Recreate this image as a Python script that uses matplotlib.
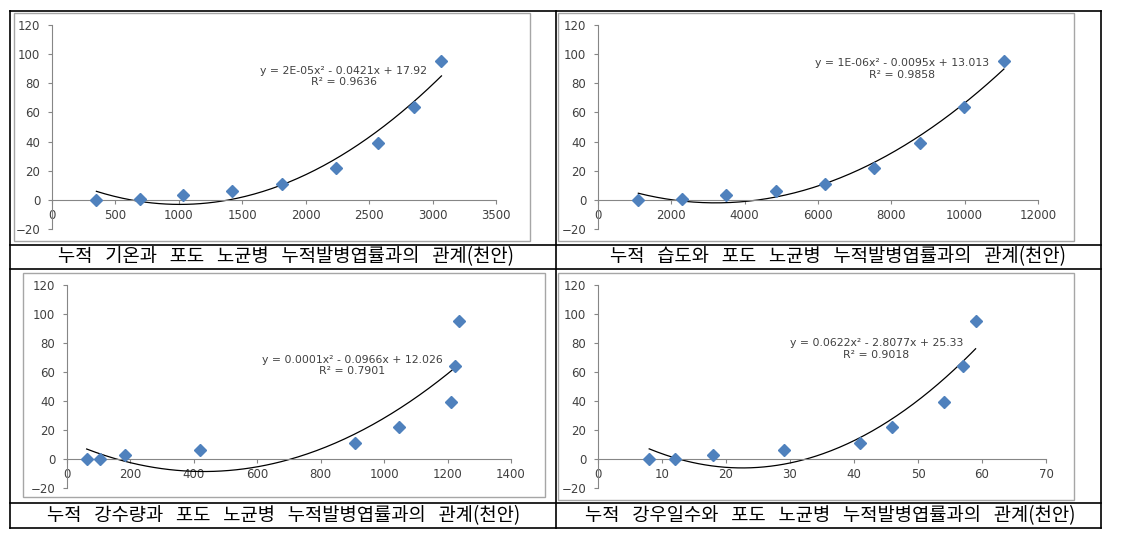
import matplotlib
matplotlib.use("Agg")
import matplotlib.pyplot as plt
from matplotlib.lines import Line2D
from matplotlib.patches import Rectangle
import numpy as np

##################
# data
##################
# cumulative incidence rate (%) - same for the 4 charts
incidence = [0, 0.3, 3, 6, 11, 22, 39, 64, 95]

temp_x = [350, 695, 1035, 1415, 1810, 2240, 2570, 2850, 3070]        # 누적 기온
humid_x = [1100, 2300, 3480, 4850, 6180, 7540, 8780, 9970, 11070]    # 누적 습도
rain_x = [62, 104, 182, 419, 909, 1046, 1210, 1222, 1235]            # 누적 강수량
raindays_x = [8, 12, 18, 29, 41, 46, 54, 57, 59]                     # 누적 강우일수

equations = ["y = 2E-05x\u00b2 - 0.0421x + 17.92",
             "y = 1E-06x\u00b2 - 0.0095x + 13.013",
             "y = 0.0001x\u00b2 - 0.0966x + 12.026",
             "y = 0.0622x\u00b2 - 2.8077x + 25.33"]
r_squared = ["R\u00b2 = 0.9636", "R\u00b2 = 0.9858", "R\u00b2 = 0.7901", "R\u00b2 = 0.9018"]

captions = ["누적   기온과   포도   노균병   누적발병엽률과의   관계(천안)",
            "누적   습도와   포도   노균병   누적발병엽률과의   관계(천안)",
            "누적   강수량과   포도   노균병   누적발병엽률과의   관계(천안)",
            "누적   강우일수와   포도   노균병   누적발병엽률과의   관계(천안)"]

x_max = [3500, 12000, 1400, 70]
x_step = [500, 2000, 200, 10]
y_ticks = [-20, 0, 20, 40, 60, 80, 100, 120]

##################
# layout (pixels)
##################
W, H = 1129, 538

def fx(x):
    return x / W

def fy(y):
    return 1 - y / H

# plot area : x0, x1, y(120), y(-20)
axes_px = [(52, 496, 25, 229), (598, 1038, 25, 229),
           (67, 511, 285, 488), (598, 1046, 285, 488)]
# gray chart frame : x0, x1, y0, y1
frames_px = [(14, 530, 13, 241), (558, 1074, 13, 241),
             (23, 545, 273, 497), (558, 1074, 273, 500)]
caption_px = [(286, 257), (838, 257), (284, 516), (830, 516)]
eq_pos = [(2300, 84.6), (8300, 89.8), (900, 64.7), (43.5, 75.8)]

fig = plt.figure(figsize=(W / 100, H / 100), dpi=100)

series_x = [temp_x, humid_x, rain_x, raindays_x]
for i in range(4):
    x0, x1, yt, yb = axes_px[i]
    ax = fig.add_axes([fx(x0), fy(yb), (x1 - x0) / W, (yb - yt) / H])
    x = np.array(series_x[i], dtype=float)
    y = np.array(incidence, dtype=float)

    # polynomial trend line (order 2), like excel
    coef = np.polyfit(x, y, 2)
    xs = np.linspace(x.min(), x.max(), 200)
    ax.plot(xs, np.polyval(coef, xs), color='black', lw=0.9, zorder=2)
    ax.plot(x, y, linestyle='none', marker='D', ms=6.5, color='#4F81BD',
            markeredgecolor='#4F81BD', zorder=3)

    ax.text(eq_pos[i][0], eq_pos[i][1], equations[i] + "\n" + r_squared[i],
            ha='center', va='center', fontsize=7.8, color='#404040',
            linespacing=1.15, multialignment='center')

    ax.set_xlim(0, x_max[i])
    ax.set_ylim(-20, 120)
    ax.set_xticks(np.arange(0, x_max[i] + 1, x_step[i]))
    ax.set_yticks(y_ticks)
    ax.spines['top'].set_visible(False)
    ax.spines['right'].set_visible(False)
    ax.spines['bottom'].set_position(('data', 0))
    for s in ['left', 'bottom']:
        ax.spines[s].set_color('#868686')
        ax.spines[s].set_linewidth(0.8)
    ax.tick_params(axis='both', direction='out', length=3, width=0.8,
                   color='#868686', labelsize=8.5, labelcolor='#404040')
    ax.tick_params(axis='x', pad=3.5)
    ax.tick_params(axis='y', pad=5.5)
    ax.patch.set_alpha(0)

    # gray frame of the excel chart
    fx0, fx1, fy0, fy1 = frames_px[i]
    fig.add_artist(Rectangle((fx(fx0), fy(fy1)), (fx1 - fx0) / W, (fy1 - fy0) / H,
                             transform=fig.transFigure, fill=False,
                             edgecolor='#A6A6A6', lw=1))

    fig.text(fx(caption_px[i][0]), fy(caption_px[i][1]), captions[i],
             ha='center', va='center', fontsize=13.5, color='black',
             family=['Noto Sans CJK KR', 'DejaVu Sans'])

########### table lines ##############
def hline(y, x0=10, x1=1101):
    fig.add_artist(Line2D([fx(x0), fx(x1)], [fy(y), fy(y)],
                          transform=fig.transFigure, color='black', lw=1.2))

def vline(x, y0=11, y1=528):
    fig.add_artist(Line2D([fx(x), fx(x)], [fy(y0), fy(y1)],
                          transform=fig.transFigure, color='black', lw=1.2))

for yy in [11, 245, 269, 503, 528]:
    hline(yy)
for xx in [10, 556, 1101]:
    vline(xx)

fig.savefig("out.png", dpi=100)
